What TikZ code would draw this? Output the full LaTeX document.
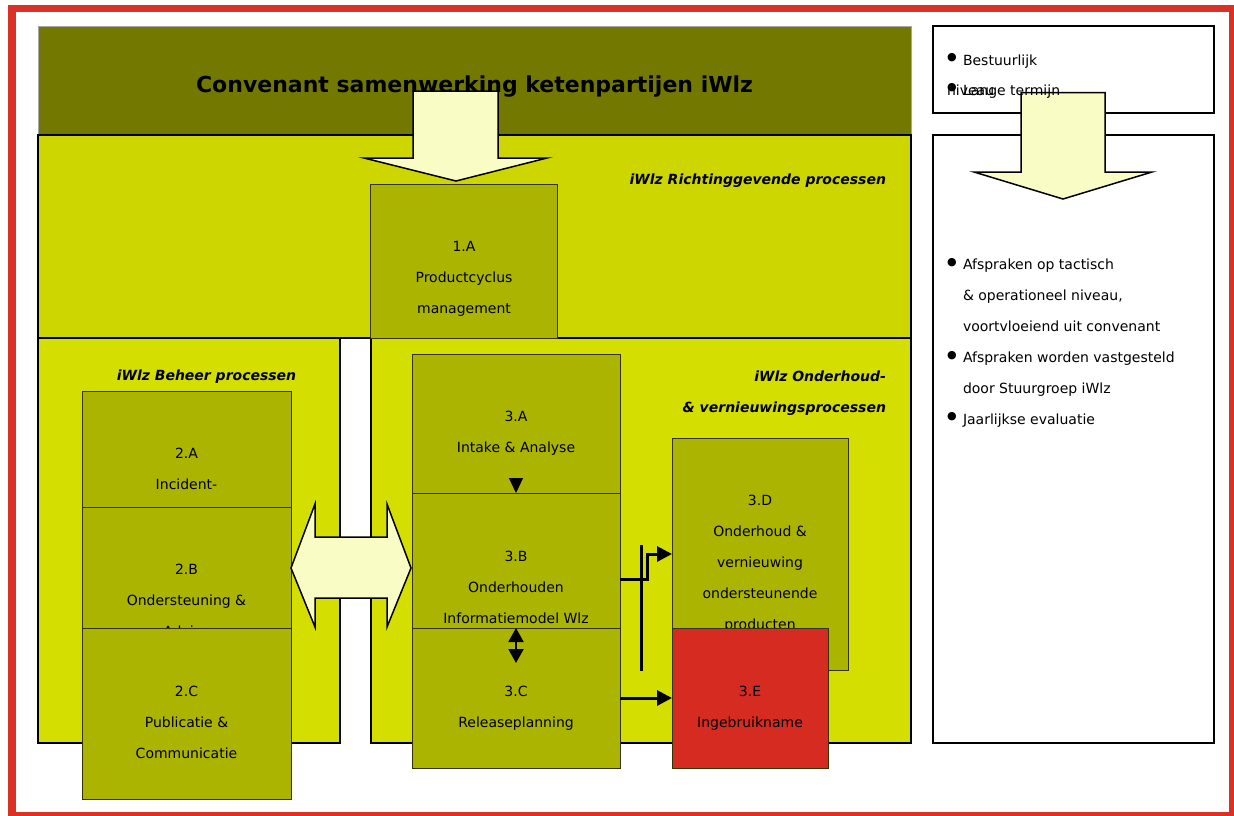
\documentclass[tikz,border=0pt]{standalone}
\usepackage{fontspec}
\setmainfont{DejaVu Sans}
\usetikzlibrary{arrows.meta}
\definecolor{titleolive}{RGB}{115,120,0}
\definecolor{topreg}{RGB}{205,214,0}
\definecolor{lowreg}{RGB}{212,222,0}
\definecolor{procfill}{RGB}{171,180,0}
\definecolor{procedge}{RGB}{51,51,0}
\definecolor{pale}{RGB}{250,252,198}
\definecolor{redfill}{RGB}{213,43,32}
\definecolor{redframe}{RGB}{218,48,38}
\begin{document}
\begin{tikzpicture}[x=1pt,y=-1pt,
  every node/.style={inner sep=0pt,outer sep=0pt},
  sz/.style 2 args={minimum width=#1,minimum height=#2},
  titlebox/.style={draw=black!35,line width=1pt,fill=titleolive},
  region/.style={draw=black,line width=2pt},
  proc/.style={draw=procedge,line width=1pt,fill=procfill},
  redproc/.style={draw=procedge,line width=1pt,fill=redfill},
  txt/.style={font=\fontsize{14}{31}\selectfont,align=center,anchor=north},
  rtxt/.style={font=\fontsize{14}{31}\selectfont},
  lbl/.style={font=\fontsize{14}{31}\selectfont\bfseries\itshape},
  bul/.style={font=\fontsize{11}{11}\selectfont,anchor=center},
  bigarrow/.style={draw=black,line width=1.5pt,fill=pale,line join=miter},
  conn/.style={line width=3pt,-{Triangle[length=15pt,width=15pt]}},
  tinyconn/.style={line width=1pt,-{Triangle[length=15pt,width=14pt]}},
  dblconn/.style={line width=2pt,{Triangle[length=14pt,width=15pt]}-{Triangle[length=14pt,width=15pt]}},
  bar/.style={line width=3pt}
]
\useasboundingbox (0,0) rectangle (1234,815);
\fill[white] (0,0) rectangle (1234,815);

% regions
\node[titlebox,sz={873}{109}] (title) at (474.5,80.5) {};
\node[font=\fontsize{22}{26}\selectfont\bfseries,anchor=base] (titletext) at (474.5,92) {Convenant samenwerking ketenpartijen iWlz};
\node[region,fill=topreg,sz={873}{203}] (richt) at (474.5,236.5) {};
\node[region,fill=lowreg,sz={302}{405}] (beheer) at (189,540.5) {};
\node[region,fill=lowreg,sz={540}{405}] (onderh) at (641,540.5) {};

\node[lbl,anchor=base east] (lblR) at (886,184) {iWlz Richtinggevende processen};
\node[lbl,anchor=base] (lblB) at (206.5,380) {iWlz Beheer processen};
\node[lbl,anchor=north east,align=right] (lblO) at (886,370.5) {iWlz Onderhoud-\\\& vernieuwingsprocessen};

% 1.A
\node[proc,sz={187}{154}] (p1A) at (463.5,261) {};
\node[txt] (t1A) at (464,240.9) {1.A\\Productcyclus\\management};

% top arrow
\draw[bigarrow] (413,91) -- (498,91) -- (498,158) -- (547,158) -- (456,181) -- (364,158) -- (413,158) -- cycle;

% right column
\node[region,fill=white,sz={281}{87}] (r1) at (1073.5,69.5) {};
\node[region,fill=white,sz={281}{608}] (r2) at (1073.5,439) {};
\draw[bigarrow] (1021,92.5) -- (1105,92.5) -- (1105,172) -- (1152,172) -- (1063,199) -- (974,172) -- (1021,172) -- cycle;
\node[bul] (b1) at (952,58) {●};
\node[rtxt,anchor=base west] (rt1) at (963,65) {Bestuurlijk};
\node[rtxt,anchor=base west] (rt2) at (947,95.5) {niveau};
\node[bul] (b2) at (952,88) {●};
\node[rtxt,anchor=base west] (rt3) at (963,95.5) {Lange termijn};
\node[rtxt,anchor=north west,align=left] (rt4) at (963,258.9) {Afspraken op tactisch\\\& operationeel niveau,\\voortvloeiend uit convenant\\Afspraken worden vastgesteld\\door Stuurgroep iWlz\\Jaarlijkse evaluatie};
\node[bul] (b3) at (952,262.7) {●};
\node[bul] (b4) at (952,355.7) {●};
\node[bul] (b5) at (952,416.7) {●};

% beheer boxes
\node[proc,sz={209}{116}] (p2A) at (186.5,449) {};
\node[txt] (t2A) at (186.5,448.2) {2.A\\Incident-\\management};
\node[proc,sz={209}{121}] (p2B) at (186.5,567.5) {};
\node[txt] (t2B) at (186.5,564) {2.B\\Ondersteuning \&\\Advies};
\node[proc,sz={209}{171}] (p2C) at (186.5,713.5) {};
\node[txt] (t2C) at (186.5,685.9) {2.C\\Publicatie \&\\Communicatie};

% horizontal double block arrow
\draw[bigarrow] (291,568) -- (315,504) -- (315,537) -- (387,537) -- (387,504) -- (411,568) -- (387,627) -- (387,598) -- (315,598) -- (315,627) -- cycle;

% onderhoud boxes
\node[proc,sz={208}{139}] (p3A) at (516,423.5) {};
\node[txt] (t3A) at (516,410.9) {3.A\\Intake \& Analyse};
\node[proc,sz={208}{172}] (p3B) at (516,579) {};
\node[txt] (t3B) at (516,550.7) {3.B\\Onderhouden\\Informatiemodel Wlz};
\node[proc,sz={208}{140}] (p3C) at (516,698) {};
\node[txt] (t3C) at (516,685.7) {3.C\\Releaseplanning};
\node[proc,sz={176}{232}] (p3D) at (760,554) {};
\node[txt] (t3D) at (760,495) {3.D\\Onderhoud \&\\vernieuwing\\ondersteunende\\producten};
\node[redproc,sz={156}{140}] (p3E) at (750,698) {};
\node[txt] (t3E) at (750,685.7) {3.E\\Ingebruikname};

% connectors
\coordinate (vend) at (516,663);
\coordinate (barTop) at (641,545);
\coordinate (barBot) at (641,671);
\draw[tinyconn] ([yshift=15pt]p3A.south) -- (p3B.north);
\draw[dblconn] (p3C.north) -- (vend);
\draw[conn] (p3B.east) -- ++(27,0) |- (p3D.west);
\draw[conn] (p3C.east) -- (p3E.west);
\draw[bar] (barTop) -- (barBot);

% red frame
\draw[redframe,line width=7.5pt] (12,8.7) rectangle (1232.5,816);
\end{tikzpicture}
\end{document}
